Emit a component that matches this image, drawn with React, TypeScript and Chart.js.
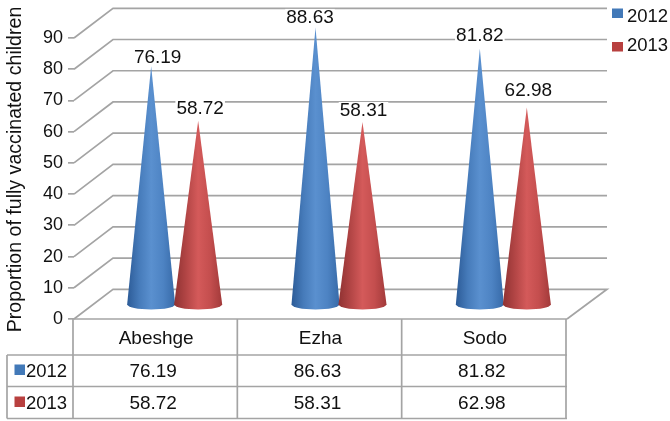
import React, { useEffect, useRef } from "react";
import { Chart, registerables } from "chart.js";

Chart.register(...registerables);

const categories = ["Abeshge", "Ezha", "Sodo"];
const series2012 = [76.19, 88.63, 81.82];
const series2013 = [58.72, 58.31, 62.98];
const table2012 = ["76.19", "86.63", "81.82"];
const table2013 = ["58.72", "58.31", "62.98"];
const seriesNames = ["2012", "2013"];
const axisTitle = "Proportion of fully vaccinated children";

const FONT = '"Liberation Sans", Arial, sans-serif';
const GRID = "#a4a4a4";
const TEXT = "#111111";
const BLUE_STOPS = ["#2c5b97", "#467bba", "#5a90cf", "#4d83c3", "#376aa8"];
const RED_STOPS = ["#8f3232", "#b24545", "#d45a5a", "#c44e4e", "#a23a3a"];
const KEY = ["#4279b8", "#b8403f"];
const DEPTH_X = 39;
const DEPTH_Y = 29.7;
const LABEL_NUDGE = [
  [[6.5, 10], [2, 13]],
  [[-5.5, 11], [1, 12.6]],
  [[0, 14], [1.5, 18]],
];

function line(ctx: CanvasRenderingContext2D, pts: number[][]) {
  ctx.beginPath();
  pts.forEach((p, i) => (i ? ctx.lineTo(p[0], p[1]) : ctx.moveTo(p[0], p[1])));
  ctx.stroke();
}

const wallPlugin = {
  id: "wall",
  beforeDatasetsDraw(chart: any) {
    const { ctx, scales } = chart;
    const { x, y } = scales;
    ctx.save();
    ctx.strokeStyle = GRID;
    ctx.lineWidth = 1.7;
    y.ticks.forEach((t: any) => {
      const py = y.getPixelForValue(t.value);
      const l = x.left;
      const r = x.right;
      if (t.value === 0) {
        line(ctx, [[l, py], [l + DEPTH_X, py - DEPTH_Y], [r + DEPTH_X + 1, py - DEPTH_Y], [r, py]]);
      } else {
        line(ctx, [[l, py], [l + DEPTH_X, py - DEPTH_Y], [r + DEPTH_X + 1, py - DEPTH_Y]]);
      }
    });
    ctx.restore();
  },
};

const conePlugin = {
  id: "cones",
  afterDatasetsDraw(chart: any) {
    const { ctx } = chart;
    chart.data.datasets.forEach((ds: any, di: number) => {
      const meta = chart.getDatasetMeta(di);
      const stops = di === 0 ? BLUE_STOPS : RED_STOPS;
      meta.data.forEach((bar: any, i: number) => {
        const cx = bar.x + DEPTH_X / 2 - 1;
        const tip = bar.y - DEPTH_Y / 2;
        const base = bar.base - DEPTH_Y / 2;
        const r = bar.width / 2 + 0.5;
        const ry = 5.2;
        const g = ctx.createLinearGradient(cx - r, 0, cx + r, 0);
        stops.forEach((c: string, k: number) => g.addColorStop(k / (stops.length - 1), c));
        ctx.save();
        ctx.fillStyle = g;
        ctx.beginPath();
        ctx.moveTo(cx, tip);
        ctx.lineTo(cx - r, base + 1);
        ctx.ellipse(cx, base + 1, r, ry, 0, Math.PI, 0, true);
        ctx.closePath();
        ctx.fill();
        ctx.restore();
      });
    });
    // value labels, above the cones
    ctx.save();
    ctx.font = `19px ${FONT}`;
    ctx.textAlign = "center";
    ctx.textBaseline = "middle";
    chart.data.datasets.forEach((ds: any, di: number) => {
      const meta = chart.getDatasetMeta(di);
      meta.data.forEach((bar: any, i: number) => {
        const cx = bar.x + DEPTH_X / 2 - 1 + LABEL_NUDGE[i][di][0];
        const ty = bar.y - DEPTH_Y / 2 - LABEL_NUDGE[i][di][1];
        const txt = ds.data[i].toFixed(2);
        const w = ctx.measureText(txt).width;
        ctx.fillStyle = "#fff";
        ctx.fillRect(cx - w / 2 - 1, ty - 7.5, w + 2, 15);
        ctx.fillStyle = TEXT;
        ctx.fillText(txt, cx, ty + 1);
      });
    });
    ctx.restore();
  },
};

const tablePlugin = {
  id: "table",
  afterDraw(chart: any) {
    const { ctx, scales } = chart;
    const { x, y } = scales;
    const top = y.bottom;
    const row1 = top + 36;
    const row2 = top + 67.5;
    const bottom = top + 99.5;
    const tableLeft = 7;
    const step = (x.right - x.left) / categories.length;
    ctx.save();
    ctx.strokeStyle = GRID;
    ctx.lineWidth = 1.7;
    line(ctx, [[x.left, top], [x.right, top]]);
    line(ctx, [[tableLeft, row1], [x.right, row1]]);
    line(ctx, [[tableLeft, row2], [x.right, row2]]);
    line(ctx, [[tableLeft, bottom], [x.right, bottom]]);
    line(ctx, [[tableLeft, row1], [tableLeft, bottom]]);
    for (let i = 0; i <= categories.length; i++) {
      const px = x.left + step * i - 1;
      line(ctx, [[px, top], [px, bottom]]);
    }
    ctx.font = `19px ${FONT}`;
    ctx.fillStyle = TEXT;
    ctx.textAlign = "center";
    ctx.textBaseline = "middle";
    categories.forEach((c, i) => {
      const px = x.getPixelForValue(i);
      ctx.fillText(table2012[i], px - 3, (row1 + row2) / 2 + 1);
      ctx.fillText(table2013[i], px - 3, (row2 + bottom) / 2 + 1);
    });
    // row keys
    [row1, row2].forEach((ry, k) => {
      const cy = ry + (k === 0 ? 14.5 : 15);
      ctx.fillStyle = KEY[k];
      ctx.fillRect(14.5, cy - 5, 10.5, 10.5);
      ctx.fillStyle = TEXT;
      ctx.textAlign = "left";
      ctx.font = `18.5px ${FONT}`;
      ctx.fillText(seriesNames[k], 26, cy + 2);
    });
    // top-right legend
    [13, 46.5].forEach((cy, k) => {
      ctx.fillStyle = KEY[k];
      ctx.fillRect(612, cy - 4.5, 11, 9.5);
    });
    [16, 44.5].forEach((cy, k) => {
      ctx.fillStyle = TEXT;
      ctx.fillText(seriesNames[k], 627, cy + 1);
    });
    // axis title
    ctx.translate(15.5, 169.5);
    ctx.rotate(-Math.PI / 2);
    ctx.textAlign = "center";
    ctx.font = `19.6px ${FONT}`;
    ctx.fillText(axisTitle, 0, 0);
    ctx.restore();
  },
};

export default function App() {
  const ref = useRef<HTMLCanvasElement | null>(null);
  useEffect(() => {
    if (!ref.current) return;
    const chart = new Chart(ref.current, {
      type: "bar",
      data: {
        labels: categories,
        datasets: [
          { label: seriesNames[0], data: series2012, backgroundColor: "rgba(0,0,0,0)" },
          { label: seriesNames[1], data: series2013, backgroundColor: "rgba(0,0,0,0)" },
        ],
      },
      plugins: [wallPlugin, conePlugin, tablePlugin],
      options: {
        responsive: false,
        animation: false,
        categoryPercentage: 0.572,
        barPercentage: 1,
        layout: { padding: { top: 38, right: 103, left: 0, bottom: 0 } },
        plugins: { legend: { display: false }, tooltip: { enabled: false } },
        scales: {
          x: {
            afterFit: (s: any) => { s.height = 102; },
            grid: { display: false },
            border: { display: false },
            ticks: {
              padding: 0,
              color: TEXT,
              font: { family: FONT, size: 19 },
              maxRotation: 0,
            },
          },
          y: {
            min: 0,
            max: 90,
            afterFit: (s: any) => { s.width = 74; },
            grid: { drawOnChartArea: false, drawTicks: true, tickLength: 6, color: GRID, lineWidth: 1.7 },
            border: { display: false },
            ticks: { stepSize: 10, padding: 5, color: TEXT, font: { family: FONT, size: 18 } },
          },
        },
      } as any,
    });
    return () => chart.destroy();
  }, []);
  return (
    <div style={{ position: "absolute", left: 0, top: 0, width: 670, height: 421, background: "#fff" }}>
      <canvas ref={ref} width={670} height={421} style={{ display: "block" }} />
    </div>
  );
}
